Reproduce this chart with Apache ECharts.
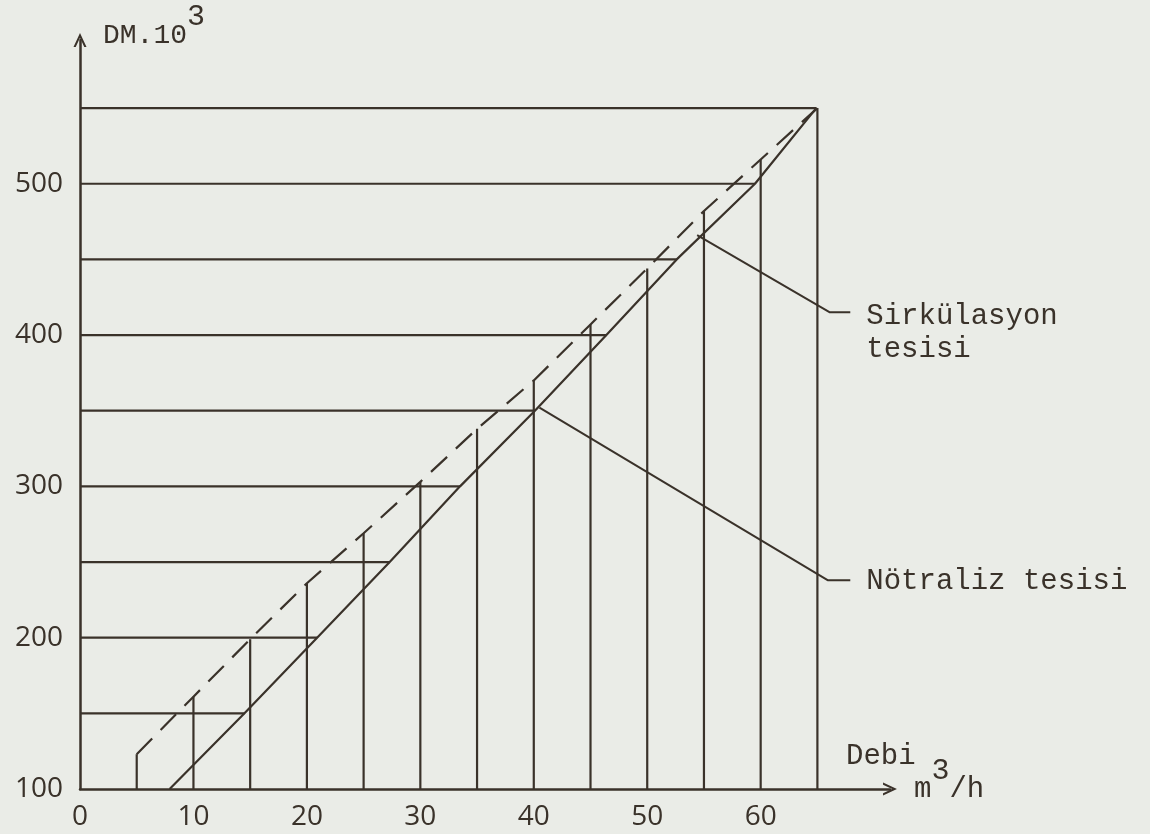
<!DOCTYPE html>
<html>
<head>
<meta charset="utf-8">
<script src="https://cdn.jsdelivr.net/npm/echarts@6/dist/echarts.min.js"></script>
<style>
  html, body { margin: 0; padding: 0; background: #eaece7; }
  #chart { width: 1150px; height: 834px; }
</style>
</head>
<body>
<div id="chart"></div>
<script>
// Debi (m3/h) at which the cost columns are drawn
const flowSteps = [5, 10, 15, 20, 25, 30, 35, 40, 45, 50, 55, 60, 65];
// Sirkülasyon tesisi cost (DM x 10^3) at each flow step
const sirkCost = [123, 161, 199, 236, 269, 303, 338, 370, 407, 444, 482, 516, 550];
// Nötraliz tesisi: cost levels (DM x 10^3) and the flow each one reaches
const notrCost = [100, 150, 200, 250, 300, 350, 400, 450, 500, 550];
const notrFlow = [7.9, 14.5, 20.9, 27.3, 33.5, 40.1, 46.4, 52.6, 59.5, 64.9];
// axis tick labels
const xTicks = [0, 10, 20, 30, 40, 50, 60];
const yTicks = [100, 200, 300, 400, 500];
// callout leaders (data coordinates) for the two curve names
const sirkLeader = [[54.4, 466], [66.1, 415], [67.9, 415]];
const notrLeader = [[40.5, 352], [65.9, 238], [67.9, 238]];

const Y_MIN = 100;
const INK = '#3a322a';
const MONO = '"Liberation Mono", "DejaVu Sans Mono", monospace';
const LETTER = '"Open Sans", "Lato", sans-serif';
const ARROW = 'path://M0,15 L7,0 L14,15 L11.6,15 L7,5.2 L2.4,15 Z';

const chart = echarts.init(document.getElementById('chart'), null, { renderer: 'canvas' });

// vertical column from the flow axis up to the Sirkülasyon cost
function columnItem(params, api) {
  const top = api.coord([api.value(0), api.value(1)]);
  const base = api.coord([api.value(0), Y_MIN]);
  return {
    type: 'line',
    shape: { x1: base[0], y1: base[1], x2: top[0], y2: top[1] },
    style: { stroke: INK, lineWidth: 2.2 }
  };
}
// horizontal read-off from the cost axis across to the Nötraliz line
function levelItem(params, api) {
  const end = api.coord([api.value(0), api.value(1)]);
  const start = api.coord([0, api.value(1)]);
  return {
    type: 'line',
    shape: { x1: start[0], y1: start[1], x2: end[0], y2: end[1] },
    style: { stroke: INK, lineWidth: 2.2 }
  };
}

function leaderSeries(points, text, offset) {
  return {
    type: 'line',
    data: points,
    symbol: 'none',
    lineStyle: { color: INK, width: 2 },
    endLabel: {
      show: true, distance: 16, offset: offset,
      formatter: text, color: INK, fontFamily: MONO, fontSize: 29,
      lineHeight: 33, align: 'left', verticalAlign: 'middle'
    },
    silent: true, z: 4
  };
}

const option = {
  backgroundColor: '#eaece7',
  animation: false,
  title: [{
    text: 'Debi',
    left: 846, top: 739, padding: 0,
    textStyle: { color: INK, fontFamily: MONO, fontSize: 29, fontWeight: 'normal', lineHeight: 34 }
  }],
  grid: { left: 80, right: 260, top: 40, bottom: 45 },
  xAxis: {
    type: 'value', min: 0, max: 71.4,
    name: '{m|m}{s|3}{m|/h}',
    nameLocation: 'end', nameGap: 24,
    nameTextStyle: {
      align: 'left', verticalAlign: 'middle', padding: [0, 0, 18, 0],
      rich: {
        m: { color: INK, fontFamily: MONO, fontSize: 29, lineHeight: 48, verticalAlign: 'bottom' },
        s: { color: INK, fontFamily: MONO, fontSize: 30, lineHeight: 30, verticalAlign: 'top' }
      }
    },
    axisLine: { show: true, symbol: ['none', ARROW], symbolSize: [13, 15],
      lineStyle: { color: INK, width: 2.5 } },
    axisTick: { show: false },
    splitLine: { show: false },
    axisLabel: { customValues: xTicks, margin: 14, color: INK, fontFamily: LETTER,
      fontSize: 28, fontWeight: 'normal' }
  },
  yAxis: {
    type: 'value', min: Y_MIN, max: 595,
    name: '{b|DM.10}{s|3}',
    nameLocation: 'end', nameGap: 14,
    nameTextStyle: {
      align: 'left', verticalAlign: 'middle', padding: [0, 0, 0, 23],
      rich: {
        b: { color: INK, fontFamily: MONO, fontSize: 28, lineHeight: 48, verticalAlign: 'bottom' },
        s: { color: INK, fontFamily: MONO, fontSize: 30, lineHeight: 30, verticalAlign: 'top' }
      }
    },
    axisLine: { show: true, symbol: ['none', ARROW], symbolSize: [13, 15],
      lineStyle: { color: INK, width: 2.5 } },
    axisTick: { show: false },
    splitLine: { show: false },
    axisLabel: { customValues: yTicks, margin: 17, color: INK, fontFamily: LETTER,
      fontSize: 28, fontWeight: 'normal', padding: [0, 0, 6, 0] }
  },
  series: [
    {
      type: 'custom', name: 'columns', renderItem: columnItem,
      data: flowSteps.map((f, i) => [f, sirkCost[i]]),
      silent: true, z: 2
    },
    {
      type: 'custom', name: 'levels', renderItem: levelItem,
      data: notrCost.slice(1).map((c, i) => [notrFlow[i + 1], c]),
      silent: true, z: 2
    },
    {
      type: 'line', name: 'Sirkülasyon tesisi',
      data: flowSteps.map((f, i) => [f, sirkCost[i]]),
      symbol: 'none',
      lineStyle: { color: INK, width: 2.2, type: [22, 12] },
      silent: true, z: 3
    },
    {
      type: 'line', name: 'Nötraliz tesisi',
      data: notrCost.map((c, i) => [notrFlow[i], c]),
      symbol: 'none',
      lineStyle: { color: INK, width: 2.2 },
      silent: true, z: 3
    },
    leaderSeries(sirkLeader, 'Sirkülasyon\ntesisi', [0, 20]),
    leaderSeries(notrLeader, 'Nötraliz tesisi', [0, 1])
  ]
};

chart.setOption(option);
</script>
</body>
</html>
